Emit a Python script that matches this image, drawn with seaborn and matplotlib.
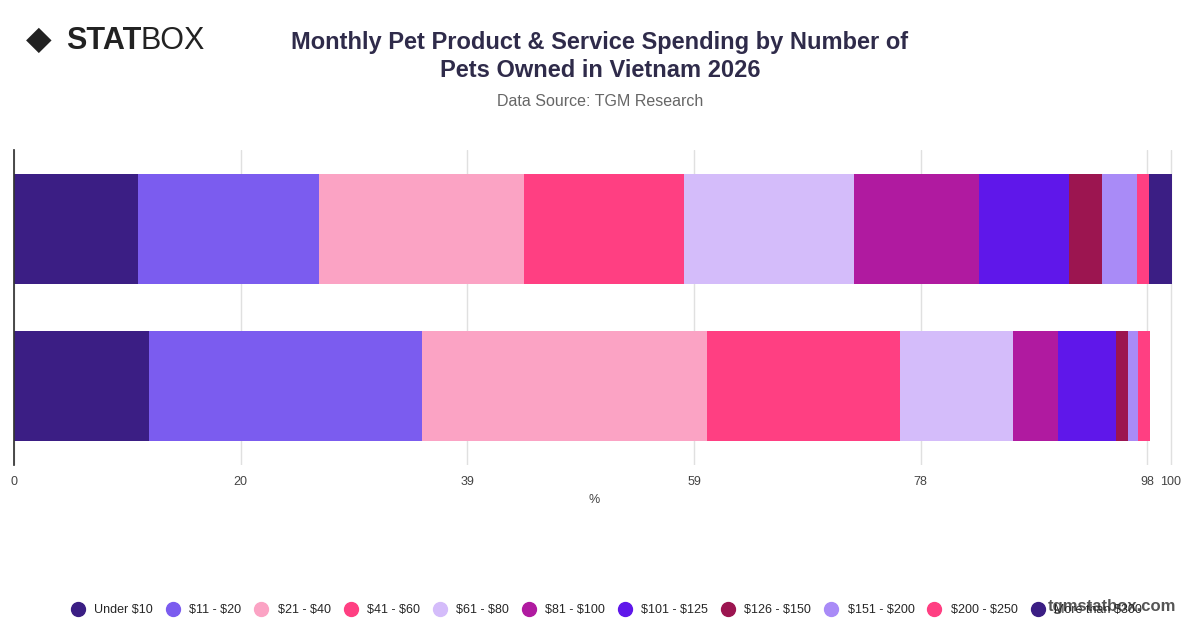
import matplotlib
matplotlib.use("Agg")
import matplotlib.pyplot as plt
import numpy as np
import pandas as pd
import seaborn as sns
from matplotlib.lines import Line2D

sns.set_theme(style="white")
plt.rcParams['font.family'] = ['Liberation Sans', 'DejaVu Sans']
plt.rcParams['text.parse_math'] = False

groups = ["1 pet", "2+ pets"]
categories = ["Under $10", "$11 - $20", "$21 - $40", "$41 - $60", "$61 - $80", "$81 - $100",
              "$101 - $125", "$126 - $150", "$151 - $200", "$200 - $250", "More than $300"]
colors = ["#3b1e84", "#7b5cef", "#fba3c4", "#ff3f82", "#d4bcfa", "#b01aa0",
          "#5f17ea", "#9c1550", "#a98bf7", "#ff3f82", "#3b1e84"]
one_pet = [10.7, 15.7, 17.7, 13.8, 14.7, 10.8, 7.8, 2.9, 3.0, 1.0, 2.0]
two_pets = [11.7, 23.6, 24.6, 16.7, 9.8, 3.9, 5.0, 1.0, 0.9, 1.0, 0.0]
tick_vals = [0, 19.6, 39.2, 58.8, 78.4, 98, 100]
tick_labels = ["0", "20", "39", "59", "78", "98", "100"]

fig = plt.figure(figsize=(12, 6.28), dpi=100)
ax = fig.add_axes([14/1200, 1-465/628, 1160/1200, 315/628])

cum1 = np.cumsum(one_pet)
cum2 = np.cumsum(two_pets)
# draw cumulative bars from the back to front to get a stacked look
for i in range(len(categories) - 1, -1, -1):
    df = pd.DataFrame({"group": groups, "value": [cum1[i], cum2[i]]})
    sns.barplot(data=df, x="value", y="group", orient="h", color=colors[i],
                width=0.7, saturation=1, ax=ax, zorder=2, linewidth=0, edgecolor="none")

ax.set_xlim(0, 100.3)
ax.set_xticks(tick_vals)
ax.set_xticklabels(tick_labels, fontsize=9, color="#444")
ax.set_yticks([])
ax.set_ylabel("")
ax.set_xlabel("%", fontsize=9, color="#444")
ax.grid(axis="x", color="#e0e0e0", linewidth=1, zorder=0)
for s in ["top", "right", "bottom"]:
    ax.spines[s].set_visible(False)
ax.spines["left"].set_color("#333")
ax.tick_params(axis="x", length=0, pad=8)

fig.text(0.5, 0.91, "Monthly Pet Product & Service Spending by Number of\nPets Owned in Vietnam 2026",
         ha="center", va="center", fontsize=17, fontweight="bold", color="#2f2b4a", linespacing=1.3)
fig.text(0.5, 0.838, "Data Source: TGM Research", ha="center", va="center", fontsize=11.5, color="#666")
fig.text(0.022, 0.935, "◆", ha="left", va="center", fontsize=24, color="#222")
fig.text(0.055, 0.935, "STAT", ha="left", va="center", fontsize=22, fontweight="heavy", color="#222")
fig.text(0.117, 0.935, "BOX", ha="left", va="center", fontsize=22, color="#222")
fig.text(0.98, 0.035, "tgmstatbox.com", ha="right", va="center", fontsize=12, fontweight="bold", color="#555")

handles = [Line2D([0], [0], marker="o", linestyle="", markersize=10, markerfacecolor=c,
                  markeredgecolor=c) for c in colors]
fig.legend(handles, categories, loc="center", bbox_to_anchor=(0.503, 0.028), ncol=11,
           frameon=False, fontsize=9, handletextpad=0.3, columnspacing=0.6)

fig.savefig("out.png", dpi=100)
